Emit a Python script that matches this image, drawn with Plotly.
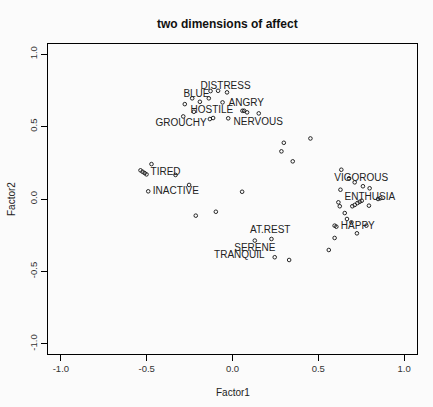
import plotly.graph_objects as go

# Labeled items (text only)
labels = ["DISTRESS", "BLUE", "ANGRY", "HOSTILE", "GROUCHY", "NERVOUS", "TIRED",
          "INACTIVE", "AT.REST", "SERENE", "TRANQUIL", "VIGOROUS", "ENTHUSIA", "HAPPY"]
lab_f1 = [-0.04, -0.21, 0.08, -0.12, -0.30, 0.15, -0.39, -0.33, 0.22, 0.13, 0.04, 0.75, 0.80, 0.73]
lab_f2 = [0.78, 0.72, 0.66, 0.61, 0.52, 0.53, 0.18, 0.05, -0.22, -0.34, -0.39, 0.14, 0.01, -0.19]

# Unlabeled items (open circles)
pt_f1 = [-0.128, -0.084, -0.032, -0.235, -0.190, -0.138, -0.278, -0.058, -0.225, -0.287,
         -0.132, -0.113, -0.025, 0.058, 0.068, 0.085, 0.153,
         0.299, 0.285, 0.351, 0.454,
         0.634, 0.679, 0.712, 0.760, 0.799, 0.629, 0.617, 0.625, 0.698, 0.712, 0.728, 0.741,
         0.753, 0.795, 0.848, 0.861, 0.654, 0.667, 0.595, 0.605, 0.693, 0.780, 0.725, 0.595, 0.561,
         -0.536, -0.524, -0.512, -0.501, -0.472, -0.332, -0.491, -0.253,
         0.056, -0.214, -0.097,
         0.130, 0.227, 0.246, 0.330]
pt_f2 = [0.745, 0.747, 0.736, 0.695, 0.671, 0.695, 0.655, 0.667, 0.602, 0.570,
         0.552, 0.559, 0.557, 0.609, 0.609, 0.598, 0.591,
         0.388, 0.329, 0.260, 0.418,
         0.202, 0.143, 0.115, 0.088, 0.074, 0.064, -0.023, -0.050, -0.050, -0.041, -0.028, -0.019,
         -0.012, -0.046, 0.000, 0.005, -0.097, -0.138, -0.184, -0.191, -0.161, -0.184, -0.237, -0.269, -0.352,
         0.198, 0.188, 0.179, 0.170, 0.241, 0.166, 0.053, 0.097,
         0.050, -0.115, -0.088,
         -0.287, -0.276, -0.402, -0.421]

tick_vals = [-1.0, -0.5, 0.0, 0.5, 1.0]
tick_text = ["-1.0", "-0.5", "0.0", "0.5", "1.0"]

FONT = "Liberation Sans, Arial, sans-serif"

fig = go.Figure()
fig.add_trace(go.Scatter(
    x=pt_f1, y=pt_f2, mode="markers",
    marker=dict(symbol="circle-open", size=3.6, color="#111", line=dict(width=0.9, color="#111")),
    hoverinfo="skip", showlegend=False))
fig.add_trace(go.Scatter(
    x=lab_f1, y=lab_f2, mode="text", text=labels, textposition="middle center",
    textfont=dict(family=FONT, size=10, color="#222"),
    hoverinfo="skip", showlegend=False))

axis_common = dict(
    tickvals=tick_vals, ticktext=tick_text, ticks="outside", ticklen=6, tickwidth=1,
    tickcolor="#000", showline=True, linecolor="#000", linewidth=1, mirror=True,
    showgrid=False, zeroline=False, tickfont=dict(family=FONT, size=9.5, color="#333"),
)

fig.update_layout(
    width=433, height=407,
    margin=dict(l=48, r=16, t=44, b=53),
    paper_bgcolor="#fbfbfb", plot_bgcolor="#fbfbfb",
    xaxis=dict(range=[-1.075, 1.075], **axis_common),
    yaxis=dict(range=[-1.07, 1.07], tickangle=-90, **axis_common),
    annotations=[
        dict(text="<b>two dimensions of affect</b>", xref="paper", yref="paper",
             x=(227 - 48) / 369, y=1, yshift=20, showarrow=False, xanchor="center", yanchor="middle",
             font=dict(family=FONT, size=12, color="#111")),
        dict(text="Factor1", xref="paper", yref="paper", x=0.5, y=0, yshift=-38,
             showarrow=False, xanchor="center", yanchor="middle",
             font=dict(family=FONT, size=10, color="#222")),
        dict(text="Factor2", xref="paper", yref="paper", x=0, y=0.5, xshift=-37,
             showarrow=False, xanchor="center", yanchor="middle", textangle=-90,
             font=dict(family=FONT, size=10, color="#222")),
    ],
)

fig.write_html("out.html")
